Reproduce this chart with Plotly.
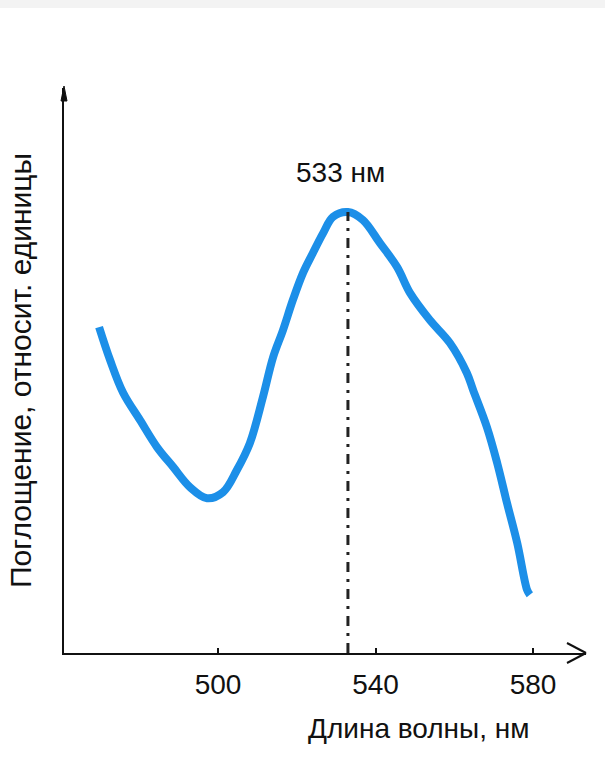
import plotly.graph_objects as go

# Absorption spectrum, relative units (peak normalised to 1)
wavelength_nm = [469.8, 472.6, 475.9, 480.2, 484.5, 488.6, 492.9, 497.2, 501.3, 504.8,
                 508.1, 511.4, 514.0, 516.5, 519.0, 521.6, 524.1, 526.7, 529.2, 533.0,
                 536.8, 541.1, 545.5, 548.8, 553.8, 558.9, 563.2, 564.8, 568.3, 570.9,
                 573.4, 576.0, 578.5, 579.2]
absorbance = [0.739, 0.664, 0.590, 0.528, 0.467, 0.422, 0.376, 0.351, 0.365, 0.415,
              0.476, 0.580, 0.671, 0.732, 0.800, 0.862, 0.907, 0.952, 0.989, 1.000,
              0.982, 0.930, 0.875, 0.816, 0.755, 0.703, 0.635, 0.596, 0.512, 0.431,
              0.340, 0.249, 0.143, 0.132]

peak_nm = 533
peak_value = 1.0
tick_values = [500, 540, 580]
tick_labels = ["500", "540", "580"]

x_title = "Длина волны, нм"
y_title = "Поглощение, относит. единицы"
peak_label = f"{peak_nm} нм"

FONT = "Liberation Sans, Arial, sans-serif"
INK = "#111111"
W, H = 605, 766
ML, MR, MT, MB = 64, 19, 88, 113
PW, PH = W - ML - MR, H - MT - MB

fig = go.Figure()

# spectrum curve
fig.add_trace(go.Scatter(
    x=wavelength_nm, y=absorbance, mode="lines",
    line=dict(color="#1c8fe8", width=8, shape="spline", smoothing=1.0),
    hoverinfo="skip", showlegend=False,
))

# dash-dot marker of the absorption maximum
fig.add_trace(go.Scatter(
    x=[peak_nm, peak_nm], y=[0, peak_value], mode="lines",
    line=dict(color="#222222", width=3, dash="10px,7px,3px,7px"),
    hoverinfo="skip", showlegend=False,
))

def px_x(p):
    return (p - ML) / PW

def px_y(p):
    return (H - MB - p) / PH

shapes = [
    # light strip along the top edge
    dict(type="rect", xref="paper", yref="paper",
         x0=px_x(0), x1=px_x(W), y0=px_y(8), y1=px_y(0),
         fillcolor="#f3f3f3", line=dict(width=0), layer="below"),
    # open arrow head of the x axis
    dict(type="line", xref="paper", yref="paper",
         x0=px_x(567), y0=px_y(643), x1=1.0, y1=0.0,
         line=dict(color=INK, width=2)),
    dict(type="line", xref="paper", yref="paper",
         x0=px_x(567), y0=px_y(663), x1=1.0, y1=0.0,
         line=dict(color=INK, width=2)),
    # arrow head of the y axis
    dict(type="path", xref="paper", yref="paper",
         path=f"M {px_x(61)},{px_y(101)} L 0,{px_y(86)} L {px_x(67)},{px_y(101)} Z",
         fillcolor=INK, line=dict(color=INK, width=1)),
]

annotations = [
    dict(x=peak_nm, y=peak_value, xref="x", yref="y", text=peak_label,
         showarrow=False, xanchor="center", yanchor="bottom",
         xshift=-7, yshift=22, font=dict(family=FONT, size=28, color=INK)),
    dict(x=px_x(418), y=px_y(728), xref="paper", yref="paper", text=x_title,
         showarrow=False, xanchor="center", yanchor="middle",
         font=dict(family=FONT, size=28, color=INK)),
]

fig.update_layout(
    width=W, height=H,
    margin=dict(l=ML, r=MR, t=MT, b=MB, autoexpand=False),
    paper_bgcolor="white", plot_bgcolor="white",
    shapes=shapes, annotations=annotations,
    xaxis=dict(
        range=[500 - (218 - ML) / 3.9375, 500 + (W - MR - 218) / 3.9375],
        showgrid=False, zeroline=False,
        showline=True, linecolor=INK, linewidth=2,
        tickmode="array", tickvals=tick_values, ticktext=tick_labels,
        ticks="inside", ticklen=5, tickwidth=2, tickcolor=INK,
        ticklabelstandoff=5,
        tickfont=dict(family=FONT, size=28, color=INK),
    ),
    yaxis=dict(
        range=[0, (H - MB - MT) / 441],
        showgrid=False, zeroline=False,
        showline=True, linecolor=INK, linewidth=2,
        showticklabels=False, ticks="",
        title=dict(text=y_title, standoff=22,
                   font=dict(family=FONT, size=30, color=INK)),
    ),
)

fig.write_html("out.html")
